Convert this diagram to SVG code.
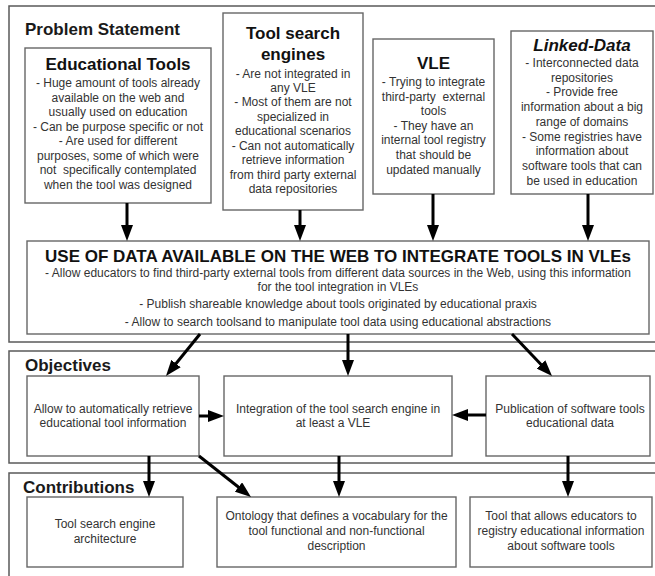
<svg xmlns="http://www.w3.org/2000/svg" width="655" height="576" viewBox="0 0 655 576">
<style>
.panel{fill:none;stroke:#5a5a5a;stroke-width:1.5}
.box{fill:#fff;stroke:#666;stroke-width:1.4}
.ptitle{font-family:"Liberation Sans",Arial,sans-serif;font-weight:bold;font-size:17px;fill:#1a1a1a}
.btitle{font-family:"Liberation Sans",Arial,sans-serif;font-weight:bold;font-size:17px;fill:#111;text-anchor:middle}
.t{font-family:"Liberation Sans",Arial,sans-serif;font-size:12px;fill:#333;text-anchor:middle}
.arr{stroke:#000;stroke-width:3;fill:none;marker-end:url(#ah)}
</style>
<defs>
<marker id="ah" markerUnits="userSpaceOnUse" markerWidth="16" markerHeight="12" refX="8" refY="6" orient="auto">
<path d="M0,0 L16,6 L0,12 z" fill="#000"/>
</marker>
</defs>
<rect width="655" height="576" fill="#fff"/>

<g id="panel-problem">
<rect class="panel" x="9" y="6" width="670" height="336"/>
<text class="ptitle" x="25" y="35">Problem Statement</text>
</g>
<g id="panel-objectives">
<rect class="panel" x="9" y="351" width="670" height="112"/>
<text class="ptitle" x="25" y="371">Objectives</text>
</g>
<g id="panel-contributions">
<rect class="panel" x="9" y="473" width="670" height="120"/>
<text class="ptitle" x="23" y="493">Contributions</text>
</g>

<g id="educational-tools">
<rect class="box" x="25" y="48" width="186" height="155"/>
<text class="btitle" x="118" y="70">Educational Tools</text>
<text class="t" x="118" y="87">- Huge amount of tools already</text>
<text class="t" x="118" y="101.5">available on the web and</text>
<text class="t" x="118" y="116">usually used on education</text>
<text class="t" x="118" y="130.5">- Can be purpose specific or not</text>
<text class="t" x="118" y="145">- Are used for different</text>
<text class="t" x="118" y="159.5">purposes, some of which were</text>
<text class="t" x="118" y="174" xml:space="preserve">not  specifically contemplated</text>
<text class="t" x="118" y="188.5">when the tool was designed</text>
</g>

<g id="tool-search-engines">
<rect class="box" x="223" y="13" width="140" height="197"/>
<text class="btitle" x="293" y="39">Tool search</text>
<text class="btitle" x="293" y="60">engines</text>
<text class="t" x="293" y="78">- Are not integrated in</text>
<text class="t" x="293" y="92">any VLE</text>
<text class="t" x="293" y="106">- Most of them are not</text>
<text class="t" x="293" y="120.5">specialized in</text>
<text class="t" x="293" y="135">educational scenarios</text>
<text class="t" x="293" y="149.5">- Can not automatically</text>
<text class="t" x="293" y="164">retrieve information</text>
<text class="t" x="293" y="178.5">from third party external</text>
<text class="t" x="293" y="193">data repositories</text>
</g>

<g id="vle">
<rect class="box" x="373" y="39" width="121" height="155"/>
<text class="btitle" x="433.5" y="69">VLE</text>
<text class="t" x="433.5" y="86">- Trying to integrate</text>
<text class="t" x="433.5" y="100.5" xml:space="preserve">third-party  external</text>
<text class="t" x="433.5" y="115">tools</text>
<text class="t" x="433.5" y="129.5">- They have an</text>
<text class="t" x="433.5" y="144">internal tool registry</text>
<text class="t" x="433.5" y="158.5">that should be</text>
<text class="t" x="433.5" y="174">updated manually</text>
</g>

<g id="linked-data">
<rect class="box" x="511" y="31" width="142" height="163"/>
<text class="btitle" x="582" y="51" font-style="italic">Linked-Data</text>
<text class="t" x="582" y="67">- Interconnected data</text>
<text class="t" x="582" y="81.5">repositories</text>
<text class="t" x="582" y="96">- Provide free</text>
<text class="t" x="582" y="111">information about a big</text>
<text class="t" x="582" y="125.5">range of domains</text>
<text class="t" x="582" y="140.5">- Some registries have</text>
<text class="t" x="582" y="155">information about</text>
<text class="t" x="582" y="170">software tools that can</text>
<text class="t" x="582" y="185">be used in education</text>
</g>

<g id="use-of-data">
<rect class="box" x="27" y="241" width="622" height="93"/>
<text class="btitle" x="338" y="262">USE OF DATA AVAILABLE ON THE WEB TO INTEGRATE TOOLS IN VLEs</text>
<text class="t" x="338" y="277">- Allow educators to find third-party external tools from different data sources in the Web, using this information</text>
<text class="t" x="338" y="291">for the tool integration in VLEs</text>
<text class="t" x="338" y="308">- Publish shareable knowledge about tools originated by educational praxis</text>
<text class="t" x="338" y="326">- Allow to search toolsand to manipulate tool data using educational abstractions</text>
</g>

<g id="obj-retrieve">
<rect class="box" x="27" y="376" width="172" height="80"/>
<text class="t" x="113" y="413">Allow to automatically retrieve</text>
<text class="t" x="113" y="427">educational tool information</text>
</g>
<g id="obj-integration">
<rect class="box" x="224" y="376" width="228" height="80"/>
<text class="t" x="338" y="413">Integration of the tool search engine in</text>
<text class="t" x="333" y="427">at least a VLE</text>
</g>
<g id="obj-publication">
<rect class="box" x="486" y="376" width="164" height="80"/>
<text class="t" x="570" y="413">Publication of software tools</text>
<text class="t" x="570" y="427">educational data</text>
</g>

<g id="con-architecture">
<rect class="box" x="27" y="497" width="156" height="70"/>
<text class="t" x="105" y="528">Tool search engine</text>
<text class="t" x="105" y="543">architecture</text>
</g>
<g id="con-ontology">
<rect class="box" x="217" y="497" width="239" height="70"/>
<text class="t" x="336.5" y="520">Ontology that defines a vocabulary for the</text>
<text class="t" x="336.5" y="535">tool functional and non-functional</text>
<text class="t" x="336.5" y="550">description</text>
</g>
<g id="con-tool">
<rect class="box" x="470" y="497" width="182" height="70"/>
<text class="t" x="561" y="520">Tool that allows educators to</text>
<text class="t" x="561" y="535">registry educational information</text>
<text class="t" x="561" y="550">about software tools</text>
</g>

<g id="connectors">
<line class="arr" x1="127" y1="203" x2="127" y2="233"/>
<line class="arr" x1="300" y1="210" x2="300" y2="233"/>
<line class="arr" x1="433" y1="194" x2="433" y2="233"/>
<line class="arr" x1="588" y1="194" x2="588" y2="233"/>
<line class="arr" x1="200" y1="334" x2="171" y2="369.8"/>
<line class="arr" x1="348" y1="334" x2="348" y2="368"/>
<line class="arr" x1="512" y1="334" x2="546.5" y2="370.2"/>
<line class="arr" x1="199" y1="416" x2="216" y2="416"/>
<line class="arr" x1="486" y1="415" x2="460" y2="415"/>
<line class="arr" x1="149" y1="456" x2="149" y2="489"/>
<line class="arr" x1="199" y1="456" x2="244.7" y2="492"/>
<line class="arr" x1="339" y1="456" x2="339" y2="489"/>
<line class="arr" x1="568" y1="456" x2="568" y2="489"/>
</g>
</svg>
